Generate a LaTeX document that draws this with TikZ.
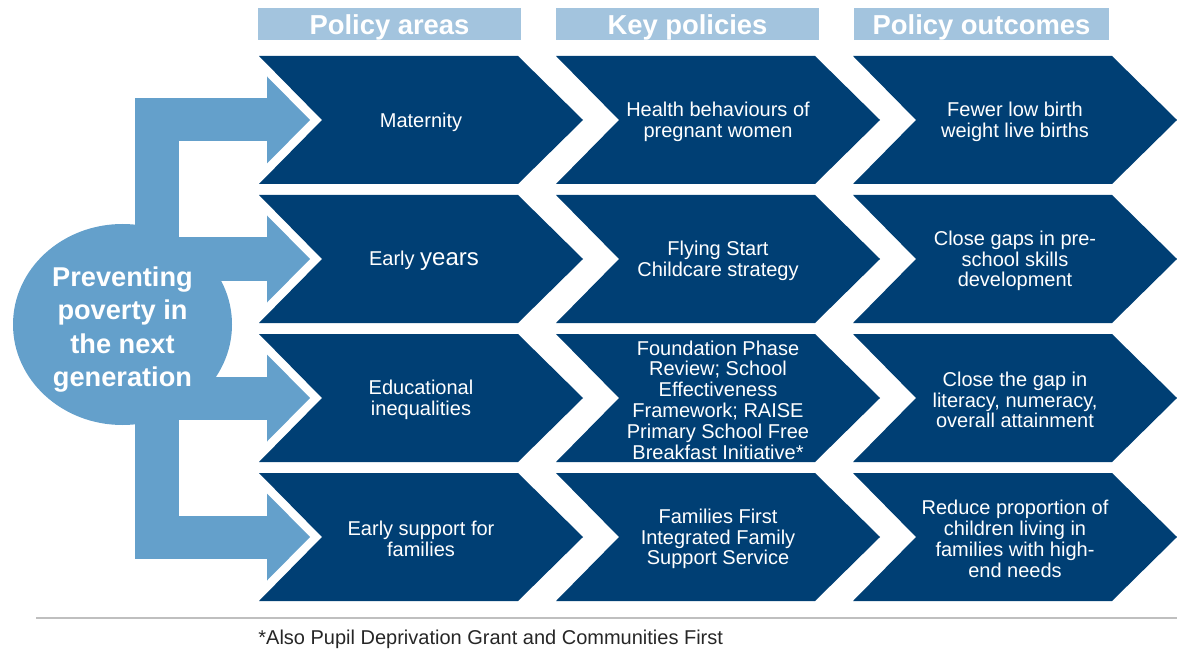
\documentclass[tikz,border=0pt]{standalone}
\usepackage{fontspec}
\setmainfont{Liberation Sans}
\definecolor{navy}{HTML}{003F74}
\definecolor{arrowblue}{HTML}{64A0CB}
\definecolor{headblue}{HTML}{A3C4DE}
\begin{document}
\begin{tikzpicture}[x=0.5pt,y=-0.5pt,
    body/.style={text=white,align=center,inner sep=0pt,font=\fontsize{10}{10.4}\selectfont},
    head/.style={text=white,inner sep=0pt,font=\bfseries\fontsize{13.7}{16}\selectfont}]
  \useasboundingbox (0,0) rectangle (1177,652);
  % column headers
  \fill[headblue] (258,8) rectangle (521,40);
  \fill[headblue] (556,8) rectangle (819,40);
  \fill[headblue] (854,8) rectangle (1109,40);
  \node[head] (areas) at (389.5,27) {Policy areas};
  \node[head] (keys) at (687.5,27) {Key policies};
  \node[head] (outcomes) at (981.5,27) {Policy outcomes};
  % chevrons
  \foreach \top in {56,195,334,473}
    \foreach \left in {259,556,853}
      \fill[navy] (\left,\top) -- ++(259,0) -- ++(65,64) -- ++(-65,64) -- ++(-259,0) -- ++(63,-64) -- cycle;
  % light blue arrows and ellipse
  \fill[arrowblue] (135,98.5) rectangle (179,558.5);
  \foreach \c in {120,259,398,537} {
    \fill[arrowblue] (135,\c-21.5) rectangle (267,\c+21.5);
    \fill[arrowblue] (267,\c-43.5) -- (310,\c) -- (267,\c+43.5) -- cycle;
  }
  \fill[arrowblue] (122.5,324.5) ellipse [x radius=109.5,y radius=100.5];
  \node[text=white,align=center,inner sep=0pt,font=\bfseries\fontsize{13.6}{16.75}\selectfont]
    (goal) at (122.5,329.5) {Preventing\\poverty in\\the next\\generation};
  % policy areas
  \node[body] (area1) at (421,122) {Maternity};
  \node[body] (area2) at (424,261) {Early {\fontsize{12}{12}\selectfont years}};
  \node[body] (area3) at (421,400) {Educational\\inequalities};
  \node[body] (area4) at (421,539) {Early support for\\families};
  % key policies
  \node[body] (policy1) at (718,122) {Health behaviours of\\pregnant women};
  \node[body] (policy2) at (718,261) {Flying Start\\Childcare strategy};
  \node[body] (policy3) at (718,400) {Foundation Phase\\Review; School\\Effectiveness\\Framework; RAISE\\Primary School Free\\Breakfast Initiative*};
  \node[body] (policy4) at (718,539) {Families First\\Integrated Family\\Support Service};
  % outcomes
  \node[body] (outcome1) at (1015,122) {Fewer low birth\\weight live births};
  \node[body] (outcome2) at (1015,261) {Close gaps in pre-\\school skills\\development};
  \node[body] (outcome3) at (1015,400) {Close the gap in\\literacy, numeracy,\\overall attainment};
  \node[body] (outcome4) at (1015,539) {Reduce proportion of\\children living in\\families with high-\\end needs};
  % footnote
  \draw[black!25,line width=1pt] (36,618) -- (1177,618);
  \node[anchor=west,inner sep=0pt,text=black!85,font=\fontsize{10}{12}\selectfont] (note) at (258,639)
    {*Also Pupil Deprivation Grant and Communities First};
\end{tikzpicture}
\end{document}
